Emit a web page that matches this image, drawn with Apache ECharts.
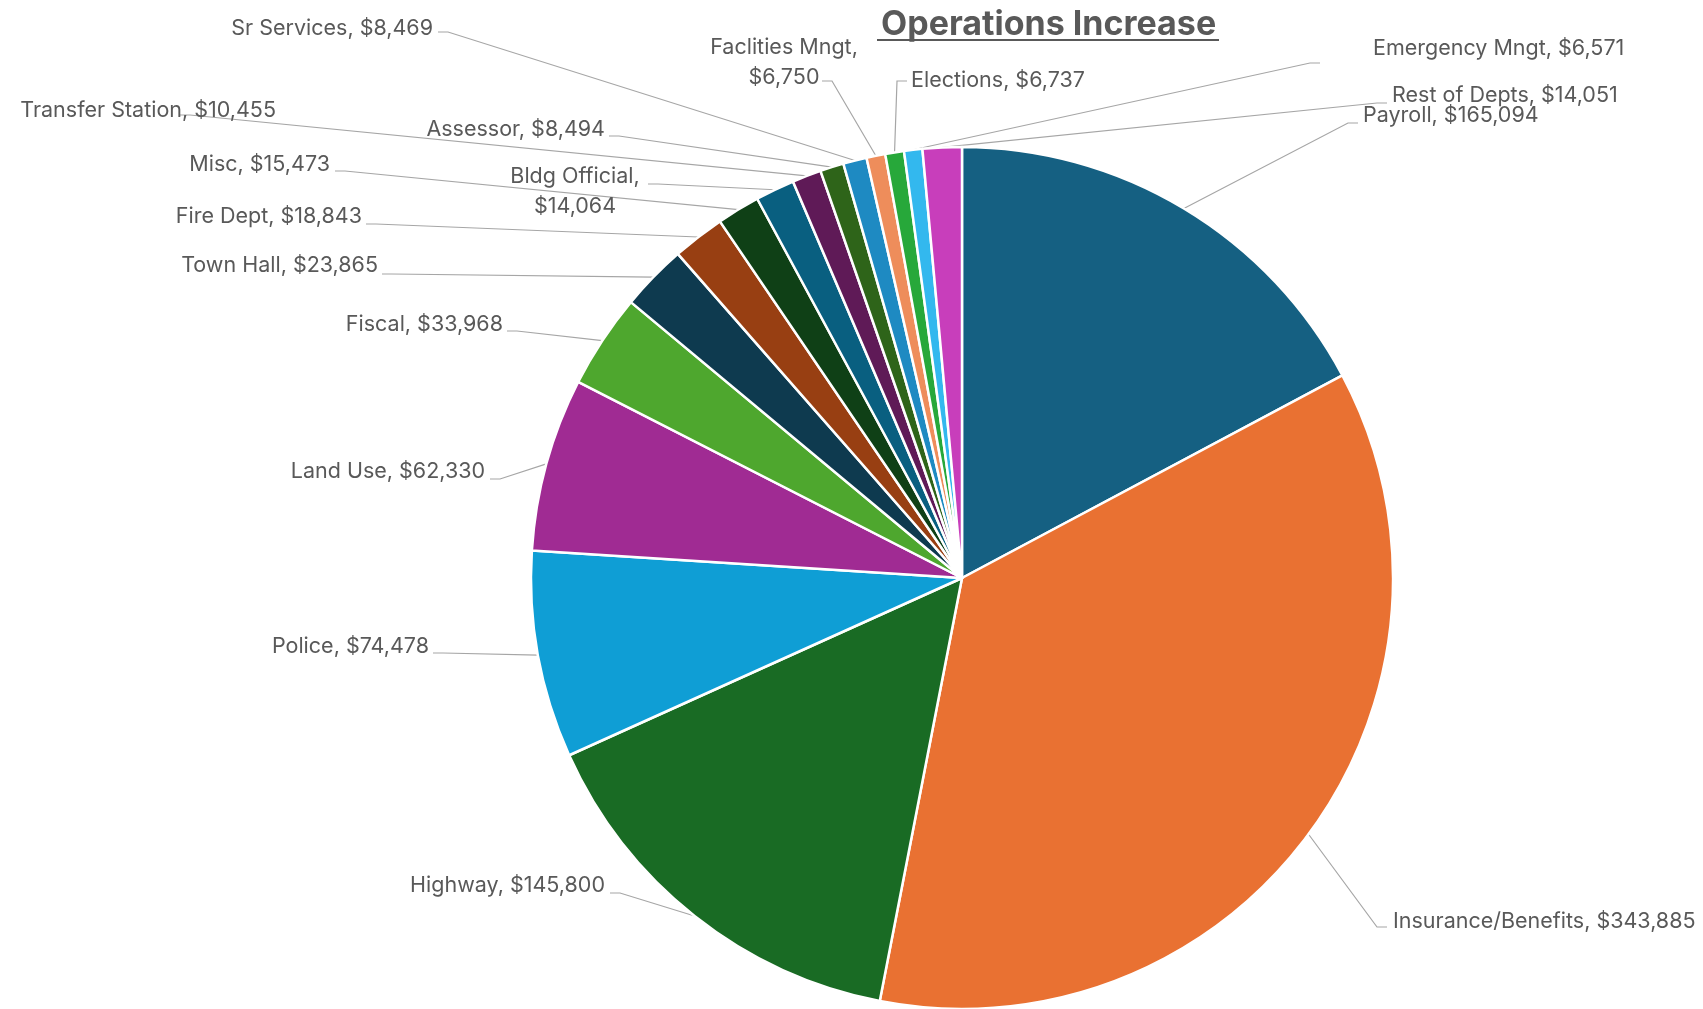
<!DOCTYPE html>
<html>
<head>
<meta charset="utf-8">
<script src="https://cdn.jsdelivr.net/npm/echarts@6/dist/echarts.min.js"></script>
<style>
  html, body { margin: 0; padding: 0; background: #fff; }
  #chart { width: 1703px; height: 1009px; }
</style>
</head>
<body>
<div id="chart"></div>
<script>
// data, clockwise from 12 o'clock
var departments = ['Payroll', 'Insurance/Benefits', 'Highway', 'Police', 'Land Use', 'Fiscal',
  'Town Hall', 'Fire Dept', 'Misc', 'Bldg Official', 'Transfer Station', 'Assessor',
  'Sr Services', 'Faclities Mngt', 'Elections', 'Emergency Mngt', 'Rest of Depts'];
var amounts = [165094, 343885, 145800, 74478, 62330, 33968,
  23865, 18843, 15473, 14064, 10455, 8494,
  8469, 6750, 6737, 6571, 14051];

// office theme colours
var sliceColors = ['#156082', '#E97132', '#196B24', '#0F9ED5', '#A02B93', '#4EA72E',
  '#0E3A4F', '#983F12', '#0F4016', '#095F80', '#5F1A57', '#2E6419',
  '#1E8AC2', '#EE8D5B', '#27A83A', '#33B8EE', '#C83EBB'];

// where each label was dragged to (x, y, align) and where its leader line ends
var labelSpots = [
  { x: 1363, y: 116, align: 'left',   ex: 1358, ey: 123 },
  { x: 1393, y: 922, align: 'left',   ex: 1387, ey: 927 },
  { x: 605,  y: 886, align: 'right',  ex: 610,  ey: 893 },
  { x: 429,  y: 647, align: 'right',  ex: 433,  ey: 653 },
  { x: 485,  y: 472, align: 'right',  ex: 490,  ey: 479 },
  { x: 503,  y: 325, align: 'right',  ex: 507,  ey: 331 },
  { x: 378,  y: 266, align: 'right',  ex: 382,  ey: 274 },
  { x: 362,  y: 217, align: 'right',  ex: 366,  ey: 224 },
  { x: 330,  y: 165, align: 'right',  ex: 335,  ey: 171 },
  { x: 575,  y: 192, align: 'center', ex: 648,  ey: 184, wrap: true },
  { x: 276,  y: 111, align: 'right',  ex: 180,  ey: 115 },
  { x: 605,  y: 130, align: 'right',  ex: 609,  ey: 136 },
  { x: 433,  y: 29,  align: 'right',  ex: 438,  ey: 32 },
  { x: 784,  y: 63,  align: 'center', ex: 822,  ey: 81, wrap: true },
  { x: 911,  y: 81,  align: 'left',   ex: 907,  ey: 81, dir: -1 },
  { x: 1373, y: 49,  align: 'left',   ex: 1320, ey: 63 },
  { x: 1392, y: 96,  align: 'left',   ex: 1387, ey: 103 }
];

var pieData = departments.map(function (name, i) {
  return { name: name, value: amounts[i], itemStyle: { color: sliceColors[i] } };
});

var myChart = echarts.init(document.getElementById('chart'));

myChart.setOption({
  animation: false,
  backgroundColor: '#fff',
  title: {
    text: 'Operations Increase',
    left: 876,
    top: 3,
    textStyle: {
      color: '#595959',
      fontSize: 34,
      fontWeight: 'bold',
      fontFamily: 'Inter'
    }
  },
  // title underline
  graphic: [{
    type: 'line',
    shape: { x1: 877, y1: 40, x2: 1219, y2: 40 },
    style: { stroke: '#595959', lineWidth: 2 }
  }],
  series: [{
    type: 'pie',
    center: [962, 578],
    radius: 431,
    startAngle: 90,
    clockwise: true,
    avoidLabelOverlap: false,
    minShowLabelAngle: 0,
    data: pieData,
    itemStyle: { borderColor: '#fff', borderWidth: 2.5 },
    emphasis: { disabled: true },
    label: {
      show: true,
      position: 'outside',
      color: '#595959',
      fontSize: 21.5,
      fontFamily: 'Inter',
      lineHeight: 30,
      formatter: function (p) {
        var s = labelSpots[p.dataIndex];
        return p.name + ',' + (s.wrap ? '\n' : ' ') + '$' + p.value.toLocaleString('en-US');
      }
    },
    labelLine: {
      show: true,
      lineStyle: { color: '#a6a6a6', width: 1.2 }
    },
    labelLayout: function (p) {
      var s = labelSpots[p.dataIndex];
      var start = p.labelLinePoints[0];
      var dir = s.align === 'right' || s.align === 'center' ? 1 : -1;
      if (s.dir) dir = s.dir;
      return {
        x: s.x,
        y: s.y,
        align: s.align,
        verticalAlign: 'middle',
        labelLinePoints: [
          [start[0], start[1]],
          [s.ex + dir * 10, s.ey],
          [s.ex, s.ey]
        ]
      };
    }
  }]
});
</script>
</body>
</html>
